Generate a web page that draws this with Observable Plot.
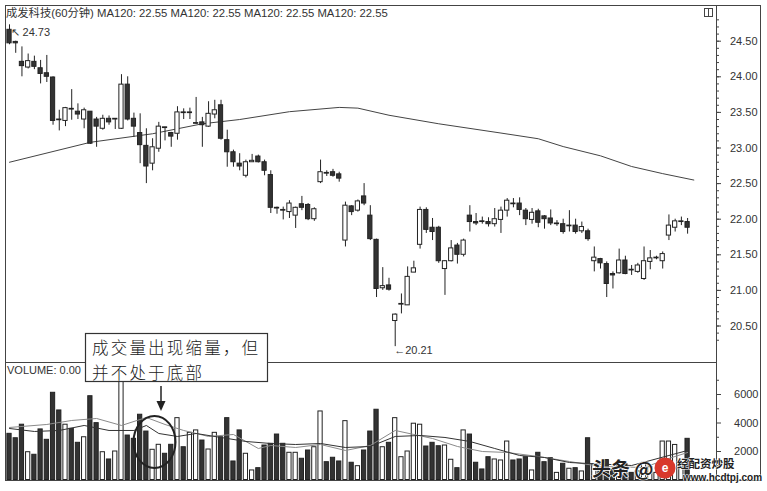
<!DOCTYPE html>
<html><head><meta charset="utf-8">
<script src="https://cdn.jsdelivr.net/npm/d3@7"></script>
<script src="https://cdn.jsdelivr.net/npm/@observablehq/plot@0.6"></script>
<style>
body{margin:0;background:#fff;}
#wrap{position:relative;width:767px;height:491px;overflow:hidden;background:#fff;font-family:"Liberation Sans",Arial,sans-serif;}
#price,#vol,#over{position:absolute;left:0;}
#price{top:0px;}
#vol{top:362px;}
#over{top:0px;}
</style></head>
<body>
<div id="wrap"><div id="price"></div><div id="vol"></div>
<svg id="over" width="767" height="491" xmlns="http://www.w3.org/2000/svg"></svg>
</div>
<script>
// ---- data (60-minute candles) ----
const opens  = [24.66,24.49,24.21,24.13,24.21,24.12,24.05,23.99,23.40,23.38,23.55,23.51,23.40,23.51,23.40,23.27,23.41,23.40,23.27,23.89,
23.41,23.21,23.03,22.78,22.99,23.29,23.21,23.20,23.50,23.49,23.34,23.36,23.30,23.47,23.60,23.11,22.94,22.78,22.61,22.80,
22.88,22.80,22.62,22.16,22.13,22.10,22.05,22.21,22.20,22.00,22.52,22.65,22.66,22.63,21.70,22.18,22.12,22.32,22.05,21.71,
21.03,21.07,20.57,20.80,20.79,21.25,21.64,22.13,21.88,21.88,21.30,21.41,21.63,21.50,22.05,21.96,21.97,21.96,21.93,21.99,
22.12,22.22,22.22,22.12,21.99,22.11,22.04,22.01,21.93,21.93,21.90,21.91,21.83,21.83,21.41,21.44,21.37,21.23,21.24,21.42,
21.29,21.26,21.16,21.40,21.45,21.41,21.77,21.88,21.96,21.96];
const highs  = [24.73,24.50,24.42,24.32,24.29,24.23,24.30,24.00,23.53,23.57,23.82,23.62,23.56,23.51,23.43,23.46,23.45,23.41,24.03,24.00,
23.49,23.48,23.27,23.13,23.36,23.29,23.22,23.58,23.55,23.56,23.71,23.43,23.65,23.67,23.67,23.25,22.97,22.92,22.83,22.91,
22.90,22.83,22.68,22.17,22.17,22.26,22.17,22.32,22.22,22.16,22.83,22.68,22.70,22.66,22.24,22.19,22.27,22.50,22.19,21.72,
21.32,21.17,20.67,20.95,21.33,21.41,22.17,22.16,22.01,21.90,21.42,21.70,21.66,21.72,22.19,22.08,22.03,22.02,22.15,22.17,
22.29,22.29,22.30,22.15,22.15,22.14,22.05,22.13,21.98,22.00,22.12,22.00,21.96,21.86,21.61,21.45,21.40,21.26,21.58,21.48,
21.35,21.38,21.61,21.56,21.48,21.54,22.06,22.00,22.03,22.01];
const lows   = [24.45,24.33,24.00,24.11,24.10,23.90,23.92,23.32,23.24,23.30,23.39,23.40,23.27,23.05,23.01,23.25,23.32,23.26,23.26,23.38,
23.15,22.78,22.50,22.68,22.94,23.10,23.01,23.11,23.40,23.40,23.33,23.01,23.29,23.41,23.11,22.73,22.73,22.68,22.58,22.80,
22.79,22.61,22.08,22.07,21.99,22.01,21.87,22.12,21.98,21.97,22.50,22.60,22.59,22.52,21.61,22.05,22.10,22.19,21.70,20.90,
21.00,20.99,20.21,20.67,20.79,21.25,21.58,21.80,21.70,21.38,20.93,21.40,21.37,21.47,21.82,21.91,21.93,21.89,21.89,21.80,
22.03,22.16,22.05,21.91,21.93,21.88,21.86,21.91,21.90,21.79,21.82,21.79,21.80,21.69,21.26,21.30,20.90,21.02,21.23,21.22,
21.21,21.24,21.14,21.29,21.43,21.30,21.70,21.82,21.91,21.79];
const closes = [24.47,24.47,24.15,24.22,24.14,24.04,24.00,23.38,23.39,23.56,23.54,23.47,23.53,23.06,23.30,23.41,23.36,23.41,23.89,23.40,
23.30,23.04,22.74,23.01,23.30,23.28,23.16,23.50,23.49,23.50,23.35,23.32,23.48,23.53,23.13,22.94,22.80,22.74,22.80,22.82,
22.80,22.68,22.16,22.15,22.12,22.22,22.16,22.16,22.00,22.14,22.66,22.64,22.61,22.57,22.19,22.10,22.25,22.22,21.72,21.02,
21.06,21.01,20.66,20.81,21.19,21.31,22.13,21.85,21.82,21.41,21.41,21.59,21.50,21.70,21.96,21.94,21.96,21.93,22.00,22.12,
22.26,22.21,22.13,22.00,22.09,21.95,22.00,21.94,21.94,21.82,21.91,21.82,21.89,21.72,21.46,21.38,21.09,21.21,21.42,21.23,
21.28,21.35,21.41,21.45,21.46,21.51,21.91,21.97,21.97,21.88];
const volumes = [3240,2930,3880,1950,1770,3550,2820,6120,4880,3880,3590,2610,3000,5880,3990,1950,1440,2000,7300,3120,
2890,4580,3400,2120,2470,1840,2470,4340,2300,3310,3480,2770,2140,3310,3000,4340,1300,3480,1840,670,
830,2420,2540,3190,2540,1910,1910,1490,2070,2300,4810,1250,1560,1300,4130,1210,970,2070,3400,4930,
2300,2610,4340,1600,2000,3950,3880,2350,2610,2370,2420,1420,830,3480,3190,1210,740,1600,1440,1370,
2700,1370,1440,1600,670,1910,1250,1530,500,1140,790,830,600,2930,1100,800,1400,700,1000,1100,
500,600,1200,900,500,2700,2700,2460,1000,2890];
// MA120 of price, read at these bar positions
const ma120Bars = [0,13,23,31,37,45,53,56,61,69,79,85,89,95,100,105,110];
const ma120Vals = [22.80,23.08,23.20,23.34,23.40,23.51,23.57,23.56,23.46,23.34,23.21,23.13,23.02,22.89,22.74,22.64,22.55];
// volume moving averages, read at these bar positions
const maShortBars = [0,4,8,12,16,20,22,24,27,30,34,38,42,46,50,54,58,62,66,70,74,78,82,86,90,93,100,106,109];
const maShortVals = [3615,3405,3475,3826,3475,3475,3826,3264,3054,3264,2984,2703,2562,2492,2562,2281,2352,3054,3124,2984,2703,2211,1720,1580,1229,1158,1018,1720,2071];
const maLongBars = [0,6,10,14,18,22,25,28,32,36,40,42,46,50,54,58,62,65,68,72,76,80,85,90,95,102,106,109];
const maLongVals = [3686,3896,4177,4317,3826,4388,3896,3475,3054,3194,2211,2422,2281,2492,2071,2422,3475,3194,2913,2352,2000,1931,1650,1299,948,878,1510,1931];
const priceTicks = [20.5,21.0,21.5,22.0,22.5,23.0,23.5,24.0,24.5];
const volTicks = [2000,4000,6000];
const titleText = "成发科技(60分钟) MA120: 22.55 MA120: 22.55 MA120: 22.55 MA120: 22.55";
const noteLines = ["成交量出现缩量，但","并不处于底部"];

// ---- build ----
const bars = opens.map((o,i)=>({i, o, h: highs[i], l: lows[i], c: closes[i], v: volumes[i], up: closes[i] >= o}));
const upBars = bars.filter(d=>d.up), downBars = bars.filter(d=>!d.up);
const ma120 = ma120Bars.map((b,k)=>({i:b, y:ma120Vals[k]}));
const maS = maShortBars.map((b,k)=>({i:b, v:maShortVals[k]}));
const maL = maLongBars.map((b,k)=>({i:b, v:maLongVals[k]}));
const half = 0.34;
const xScale = {type:"linear", domain:[0,109], range:[9,687.1], axis:null};
const style = {background:"transparent", fontFamily:"'Liberation Sans', Arial, sans-serif", fontSize:"11px", color:"#333", overflow:"visible"};
const ink = "#222";

const pricePlot = Plot.plot({
  width:767, height:362, marginLeft:4, marginRight:51, marginTop:5, marginBottom:0,
  style,
  x: xScale,
  y: {domain:[20.5,24.5], range:[325.5,40.7]},
  marks: [
    Plot.line(ma120, {x:"i", y:"y", stroke:"#444", strokeWidth:1}),
    Plot.ruleX(bars, {x:"i", y1:"l", y2:"h", stroke:ink, strokeWidth:1}),
    Plot.rect(upBars, {x1:d=>d.i-half, x2:d=>d.i+half, y1:"o", y2:"c", fill:"#fff", stroke:ink, strokeWidth:1}),
    Plot.rect(downBars, {x1:d=>d.i-half, x2:d=>d.i+half, y1:"o", y2:"c", fill:"#333", stroke:ink, strokeWidth:1}),
    Plot.axisY(d3.ticks(20.3, 24.8, 45), {anchor:"right", label:null, tickSize:2, tickFormat:()=>"", stroke:"#444"}),
    Plot.axisY(priceTicks, {anchor:"right", label:null, tickSize:4, tickPadding:37, textAnchor:"end", tickFormat:d=>d.toFixed(2), stroke:"#444", fill:"#333", fontSize:11}),
    Plot.text([bars[0]], {x:"i", y:"h", text:d=>"↖ "+d.h.toFixed(2), textAnchor:"start", dx:1, dy:8, fill:"#333", fontSize:11}),
    Plot.text([bars[62]], {x:"i", y:"l", text:d=>"←"+d.l.toFixed(2), textAnchor:"start", dx:-1, dy:4, fill:"#333", fontSize:11})
  ]
});
document.getElementById("price").appendChild(pricePlot);

const volPlot = Plot.plot({
  width:767, height:129, marginLeft:4, marginRight:51, marginTop:0, marginBottom:0,
  style,
  x: xScale,
  y: {domain:[0,6000], range:[117.5,32]},
  marks: [
    Plot.rect(upBars, {x1:d=>d.i-half, x2:d=>d.i+half, y1:()=>0, y2:"v", fill:"#fff", stroke:ink, strokeWidth:1}),
    Plot.rect(downBars, {x1:d=>d.i-half, x2:d=>d.i+half, y1:()=>0, y2:"v", fill:"#333", stroke:ink, strokeWidth:1}),
    Plot.line(maL, {x:"i", y:"v", stroke:"#8a8a8a", strokeWidth:1}),
    Plot.line(maS, {x:"i", y:"v", stroke:"#333", strokeWidth:1}),
    Plot.axisY([1000,3000,5000,7000], {anchor:"right", label:null, tickSize:2, tickFormat:()=>"", stroke:"#444"}),
    Plot.axisY(volTicks, {anchor:"right", label:null, tickSize:4, tickPadding:38, textAnchor:"end", tickFormat:d=>String(d), stroke:"#444", fill:"#333", fontSize:11})
  ]
});
document.getElementById("vol").appendChild(volPlot);

// ---- overlay: frame, titles, annotation ----
const svg = d3.select("#over");
svg.append("rect").attr("x",5.5).attr("y",5.5).attr("width",755).attr("height",475).attr("fill","none").attr("stroke","#444");
svg.append("line").attr("x1",716.5).attr("x2",716.5).attr("y1",5).attr("y2",481).attr("stroke","#444");
svg.append("line").attr("x1",5).attr("x2",716.5).attr("y1",362.5).attr("y2",362.5).attr("stroke","#444");
svg.append("text").attr("x",6).attr("y",17).attr("font-size",11.3).attr("fill","#333")
  .attr("font-family","'Liberation Sans', Arial, 'Noto Sans CJK SC', sans-serif").text(titleText);
svg.append("rect").attr("x",704.5).attr("y",8.5).attr("width",8).attr("height",8).attr("fill","#fff").attr("stroke","#444");
svg.append("line").attr("x1",708.5).attr("x2",708.5).attr("y1",8.5).attr("y2",16.5).attr("stroke","#444");
svg.append("text").attr("x",7).attr("y",374).attr("font-size",11).attr("fill","#333")
  .attr("font-family","'Liberation Sans', Arial, sans-serif").text("VOLUME: 0.00");
// annotation box (one wrapped text)
svg.append("rect").attr("x",85.5).attr("y",333.5).attr("width",182).attr("height",48).attr("fill","#fff").attr("stroke","#333").attr("stroke-width",1.2);
const note = svg.append("text").attr("font-size",16.5).attr("letter-spacing",2.2).attr("fill","#222")
  .attr("font-family","'Noto Sans CJK SC', sans-serif").attr("font-weight",300);
noteLines.forEach((t,k)=>{
  note.append("tspan").attr("x",92).attr("y",354+k*24.5).text(t);
});
svg.append("line").attr("x1",161).attr("x2",161).attr("y1",386).attr("y2",403).attr("stroke","#222").attr("stroke-width",1.5);
svg.append("polygon").attr("points","156.5,401 165.5,401 161,411").attr("fill","#222");
svg.append("ellipse").attr("cx",154.5).attr("cy",442).attr("rx",21).attr("ry",26).attr("fill","none").attr("stroke","#222").attr("stroke-width",2);
// watermark
svg.append("text").attr("x",592).attr("y",476).attr("font-size",19).attr("font-weight",700)
  .attr("font-family","'Noto Sans CJK SC', sans-serif").attr("fill","#222").attr("stroke","#fff").attr("stroke-width",1.2)
  .attr("paint-order","stroke").text("头条 @");
svg.append("circle").attr("cx",665).attr("cy",468).attr("r",10.5).attr("fill","#d8382c");
svg.append("text").attr("x",665).attr("y",472).attr("text-anchor","middle").attr("font-size",12).attr("font-weight",700).attr("fill","#fff").text("e");
const wm = svg.append("text").attr("font-weight",700).attr("fill","#222").attr("stroke","#fff").attr("stroke-width",1).attr("paint-order","stroke");
wm.append("tspan").attr("x",677).attr("y",468).attr("font-size",11.5).attr("font-family","'Noto Sans CJK SC', sans-serif").text("经配资炒股");
wm.append("tspan").attr("x",683).attr("y",481).attr("font-size",10).attr("font-family","'Liberation Sans', Arial, sans-serif").text("www.hcdtpj.com");
</script>
</body></html>
